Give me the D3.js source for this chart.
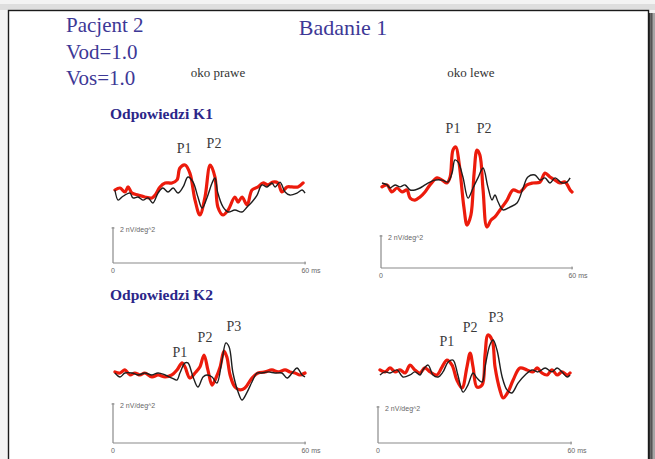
<!DOCTYPE html>
<html>
<head>
<meta charset="utf-8">
<script src="https://cdn.jsdelivr.net/npm/d3@7"></script>
<style>
  html, body { margin: 0; padding: 0; background: #efefef; overflow: hidden; }
  svg { display: block; }
</style>
</head>
<body>
<div id="chart"></div>
<script>
// time axis (ms) and amplitude unit label
const timeDomain = [0, 60];
const unitLabel = "2 nV/deg^2";
const eyeLabels = ["oko prawe", "oko lewe"];
const responseLabels = ["Odpowiedzi K1", "Odpowiedzi K2"];
const headerLines = ["Pacjent 2", "Vod=1.0", "Vos=1.0"];
const studyTitle = "Badanie 1";

// traces: [ms, nV/deg^2]
const k1RightRed = [[0.6,0],[2.2,.11],[3.7,-.11],[4.7,.17],[5.9,-.17],[7.8,-.28],[9.9,-.39],[12.1,-.44],[13.1,-.28],[14.6,.17],[16.2,.39],[18.3,.39],[19.9,.56],[20.8,1.22],[22.4,1.39],[23.9,.94],[25.5,-.56],[27.0,-1.39],[28.6,-.39],[30.2,1.39],[31.7,.72],[32.6,-.94],[34.2,-1.39],[35.8,-1.11],[37.9,-.39],[38.9,-.67],[40.1,-.39],[41.7,-.83],[43.2,0],[45.1,.17],[46.6,.39],[48.2,.28],[49.7,.44],[51.3,.39],[52.5,-.11],[54.1,.17],[55.6,.17],[57.5,.17],[59.1,.39]];
const k1RightBlack = [[0.6,0],[1.6,-.56],[2.8,-.39],[3.7,-.28],[5.3,-.17],[6.2,-.44],[7.8,-.39],[9.3,-.56],[10.9,-.44],[12.4,-.72],[14.0,-.17],[15.5,.11],[17.1,-.11],[18.7,.11],[20.2,-.17],[21.8,.17],[23.3,.72],[24.9,.44],[26.4,-.39],[27.7,-1.0],[29.2,-.44],[30.8,.39],[31.7,.67],[32.6,-.17],[34.2,-.94],[35.8,-1.22],[37.9,-1.11],[40.1,-1.22],[41.7,-.94],[43.2,-.67],[44.8,-.28],[46.3,.28],[47.9,.17],[49.4,.39],[50.4,.17],[51.9,.44],[53.5,-.11],[55.0,-.28],[57.2,-.17],[58.8,0],[59.7,-.17]];
const k1LeftRed = [[0.3,.06],[1.9,.17],[3.4,-.22],[5.0,0],[6.6,-.22],[8.1,-.11],[9.1,-.56],[10.6,-.67],[12.2,-.5],[13.75,-.22],[15.3,.17],[17.5,.56],[19.1,.44],[20.6,.28],[21.6,.61],[22.5,2.11],[23.4,2.28],[24.4,1.39],[25.9,-1.06],[26.9,-2.06],[28.1,-1.5],[29.1,.83],[30.0,2.11],[30.9,1.83],[31.9,-.11],[33.1,-2.17],[34.4,-1.78],[35.6,-1.61],[37.2,-1.22],[39.4,-.67],[41.25,-.11],[43.4,-.22],[45.6,.17],[47.5,.28],[49.7,.33],[51.25,.83],[52.8,.61],[54.4,.44],[55.9,.28],[57.5,.33],[59.1,-.11],[59.7,-.22]];
const k1LeftBlack = [[0.3,.28],[1.9,.17],[2.8,0],[4.4,.17],[5.9,.06],[7.5,.17],[9.1,-.11],[10.6,-.11],[12.2,0],[13.75,.17],[15.3,.33],[16.9,.44],[19.1,.44],[20.9,.33],[22.2,.83],[23.1,1.56],[24.1,1.44],[25.6,.61],[27.2,-.56],[28.75,0],[30.3,.56],[31.9,1.11],[33.4,.06],[34.7,-.67],[35.6,-.39],[36.6,-.78],[38.1,-1.22],[40.3,-1.06],[42.5,-.83],[44.4,0],[45.9,.61],[48.1,.72],[49.7,.44],[51.25,.56],[52.8,.28],[54.4,.56],[56.6,.28],[58.1,.33],[59.1,.56]];
const k2RightRed = [[0.6,.06],[2.2,0],[3.7,.17],[5.3,-.11],[6.8,0],[8.4,-.11],[9.9,0],[12.1,-.22],[14.0,-.11],[16.2,-.22],[18.3,-.11],[19.9,.17],[21.5,.56],[22.4,.33],[23.9,-.28],[25.5,0],[27.0,.33],[28.3,1.0],[29.5,.17],[30.8,-.67],[32.0,-.28],[33.3,.33],[34.5,1.22],[35.4,.89],[36.4,-.11],[37.9,-.78],[39.5,-.94],[41.0,-.83],[43.2,-.28],[45.1,0],[47.3,.06],[49.4,.17],[51.3,.06],[53.5,.17],[55.0,.06],[56.6,0],[58.1,-.11],[59.7,0]];
const k2RightBlack = [[0.6,0],[2.2,-.22],[3.7,0],[5.9,0],[7.8,-.11],[9.9,0],[12.1,-.11],[14.0,0],[16.2,-.11],[18.3,-.28],[19.9,-.39],[20.8,0],[22.4,.56],[23.3,.56],[24.9,-.22],[26.4,-.78],[28.0,-.22],[29.2,-.11],[30.8,-.22],[32.3,-.56],[33.9,.72],[35.1,1.67],[36.1,1.44],[37.3,0],[38.9,-1.06],[40.1,-1.5],[41.7,-1.06],[43.2,-.5],[44.8,0],[46.3,0],[48.2,.06],[50.4,0],[52.5,0],[54.1,-.28],[55.7,0],[57.2,.28],[58.8,-.11],[59.7,-.22]];
const k2LeftRed = [[0.6,.17],[2.2,.06],[3.7,.28],[5.3,.06],[6.8,.17],[8.4,0],[9.9,.44],[11.4,.17],[13.0,0],[14.5,.28],[16.1,.06],[18.2,-.11],[19.8,.33],[21.3,.72],[22.9,.44],[24.4,-.39],[26.0,-.83],[27.5,.33],[28.5,1.11],[29.4,.33],[30.6,-.78],[32.2,-.67],[33.1,1.0],[34.0,2.11],[35.3,1.83],[36.2,.33],[37.7,-.94],[38.7,-1.39],[40.2,-1.06],[41.8,-.39],[43.9,.28],[46.1,.17],[47.9,.06],[49.2,.28],[50.7,0],[52.3,-.11],[53.8,.17],[55.4,-.11],[56.9,.06],[58.5,-.11],[59.4,0]];
const k2LeftBlack = [[0.6,-.11],[2.2,.06],[3.7,0],[5.9,.17],[7.7,-.22],[9.9,-.11],[11.4,.06],[13.0,-.11],[13.9,.17],[15.5,.44],[17.0,-.11],[18.6,-.22],[20.1,.06],[21.7,.61],[23.2,.72],[24.7,-.11],[26.3,-1.06],[27.8,-.67],[29.4,0],[30.6,-.28],[32.2,-.5],[33.1,.33],[34.6,1.56],[35.6,1.83],[36.8,1.28],[38.4,-.22],[39.9,-.94],[41.4,-1.11],[43.3,-.56],[45.5,-.11],[47.6,.17],[49.5,.06],[51.7,.28],[53.8,.06],[55.4,.28],[56.9,.06],[58.5,-.22],[59.4,-.11]];

// peak labels: [name, ms, nV/deg^2]
const k1RightPeaks = [["P1", 22.1, 2.06], ["P2", 31.4, 2.33]];
const k1LeftPeaks = [["P1", 22.5, 3.06], ["P2", 32.2, 3.06]];
const k2RightPeaks = [["P1", 20.8, 0.89], ["P2", 28.6, 1.72], ["P3", 37.6, 2.33]];
const k2LeftPeaks = [["P1", 21.3, 1.5], ["P2", 28.5, 2.28], ["P3", 36.5, 2.83]];

const W = 655, H = 459;
const pxPerUnit = 18;
const serif = "'Liberation Serif', 'Times New Roman', serif";
const sans = "'Liberation Sans', Arial, sans-serif";

const panels = [
  { x0: 113, x1: 306, base: 190, axisY: 263, barTop: 227, red: k1RightRed, black: k1RightBlack, peaks: k1RightPeaks },
  { x0: 381, x1: 573, base: 188, axisY: 268, barTop: 235, red: k1LeftRed, black: k1LeftBlack, peaks: k1LeftPeaks },
  { x0: 113, x1: 306, base: 373, axisY: 443, barTop: 403, red: k2RightRed, black: k2RightBlack, peaks: k2RightPeaks },
  { x0: 378, x1: 572, base: 373, axisY: 443, barTop: 406, red: k2LeftRed, black: k2LeftBlack, peaks: k2LeftPeaks }
];

const svg = d3.select("#chart").append("svg")
  .attr("width", W).attr("height", H);

// page background, shadow strips, frame
svg.append("rect").attr("x", 0).attr("y", 0).attr("width", W).attr("height", H).attr("fill", "#f3f3f3");
svg.append("rect").attr("x", 0).attr("y", 4).attr("width", W).attr("height", 6).attr("fill", "#dedede");
[["#333333", 649], ["#555555", 650.5], ["#7a7a7a", 652], ["#a5a5a5", 653.5]].forEach(([c, sx]) => {
  svg.append("rect").attr("x", sx).attr("y", 13).attr("width", 1.6).attr("height", H).attr("fill", c);
});
svg.append("rect")
  .attr("x", 8.5).attr("y", 10.5).attr("width", 640).attr("height", H + 10)
  .attr("fill", "#ffffff").attr("stroke", "#1a1a1a").attr("stroke-width", 1.4);

// header texts
svg.selectAll("text.head").data(headerLines).enter().append("text")
  .attr("class", "head")
  .attr("x", 66).attr("y", (d, i) => 32 + i * 26.5)
  .attr("font-family", serif).attr("font-size", 21).attr("fill", "#3d3896")
  .text(d => d);

svg.append("text").attr("x", 343).attr("y", 35).attr("text-anchor", "middle")
  .attr("font-family", serif).attr("font-size", 22).attr("fill", "#3d3896")
  .text(studyTitle);

svg.selectAll("text.eye").data(eyeLabels).enter().append("text")
  .attr("class", "eye")
  .attr("x", (d, i) => [218, 471][i]).attr("y", 77).attr("text-anchor", "middle")
  .attr("font-family", serif).attr("font-size", 13).attr("fill", "#333")
  .text(d => d);

svg.selectAll("text.resp").data(responseLabels).enter().append("text")
  .attr("class", "resp")
  .attr("x", 110).attr("y", (d, i) => [119, 300][i])
  .attr("font-family", serif).attr("font-size", 15.5).attr("font-weight", "bold").attr("fill", "#2b2689")
  .text(d => d);

panels.forEach(p => {
  const x = d3.scaleLinear().domain(timeDomain).range([p.x0, p.x1]);
  const y = d3.scaleLinear().domain([0, 1]).range([p.base, p.base - pxPerUnit]);
  const g = svg.append("g");

  // axes / scale bar
  const axisColor = "#8a8a8a";
  g.append("line").attr("x1", x(0)).attr("x2", x(0)).attr("y1", p.axisY).attr("y2", p.barTop)
    .attr("stroke", axisColor).attr("stroke-width", 1.2);
  g.append("line").attr("x1", x(0) - 1.5).attr("x2", x(0) + 1.5).attr("y1", p.barTop + 1).attr("y2", p.barTop + 1)
    .attr("stroke", axisColor).attr("stroke-width", 1);
  g.append("line").attr("x1", x(0)).attr("x2", x(60)).attr("y1", p.axisY).attr("y2", p.axisY)
    .attr("stroke", axisColor).attr("stroke-width", 1.2);
  g.append("line").attr("x1", x(60) - 1).attr("x2", x(60) - 1).attr("y1", p.axisY - 1.5).attr("y2", p.axisY + 1.5)
    .attr("stroke", axisColor).attr("stroke-width", 1);

  g.append("text").attr("x", x(0) + 7).attr("y", p.barTop + 5)
    .attr("font-family", sans).attr("font-size", 7).attr("fill", "#666").text(unitLabel);
  g.append("text").attr("x", x(0)).attr("y", p.axisY + 10).attr("text-anchor", "middle")
    .attr("font-family", sans).attr("font-size", 7).attr("fill", "#666").text("0");
  g.append("text").attr("x", x(60) + 5).attr("y", p.axisY + 10).attr("text-anchor", "middle")
    .attr("font-family", sans).attr("font-size", 7).attr("fill", "#666").text("60 ms");

  const line = d3.line().x(d => x(d[0])).y(d => y(d[1])).curve(d3.curveCatmullRom.alpha(0.5));

  g.append("path").datum(p.red).attr("d", line)
    .attr("fill", "none").attr("stroke", "#ec1b0c").attr("stroke-width", 3.2)
    .attr("stroke-linejoin", "round").attr("stroke-linecap", "round");
  g.append("path").datum(p.black).attr("d", line)
    .attr("fill", "none").attr("stroke", "#1e1e1e").attr("stroke-width", 1.4)
    .attr("stroke-linejoin", "round");

  g.selectAll("text.peak").data(p.peaks).enter().append("text")
    .attr("class", "peak")
    .attr("x", d => x(d[1])).attr("y", d => y(d[2])).attr("text-anchor", "middle")
    .attr("font-family", serif).attr("font-size", 14).attr("fill", "#3a3a3a")
    .text(d => d[0]);
});
</script>
</body>
</html>
